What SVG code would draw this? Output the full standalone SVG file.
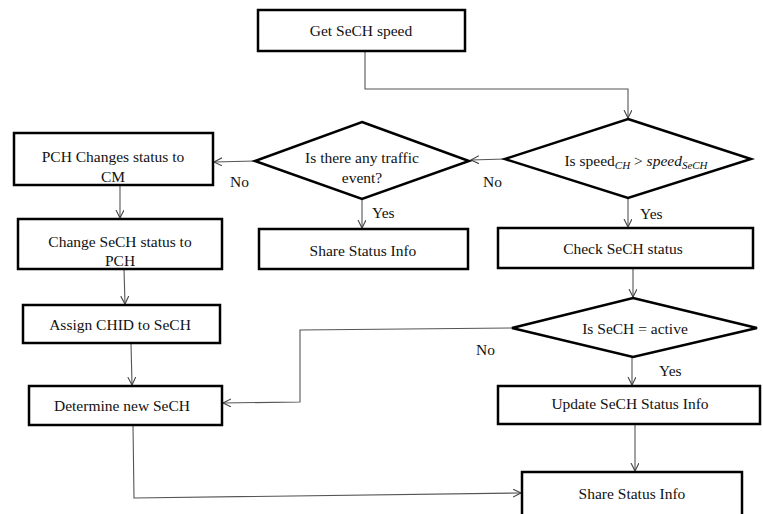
<svg xmlns="http://www.w3.org/2000/svg" width="763" height="514" viewBox="0 0 763 514">
<style>
.box{fill:#fff;stroke:#000;stroke-width:2.5}
.dia{fill:#fff;stroke:#000;stroke-width:2.5;stroke-linejoin:miter}
.t{font-family:"Liberation Serif","Times New Roman",serif;font-size:15.5px;fill:#111;text-anchor:middle}
.l{font-family:"Liberation Serif","Times New Roman",serif;font-size:15.5px;fill:#111}
.c{fill:none;stroke:#555;stroke-width:1.1}
.a{marker-end:url(#arr)}
</style>
<defs>
<marker id="arr" markerUnits="userSpaceOnUse" markerWidth="10" markerHeight="10" refX="8" refY="4" orient="auto">
<path d="M0,0 L8,4 L0,8" fill="none" stroke="#444" stroke-width="1.1"/>
</marker>
</defs>
<g id="connectors">
<path class="c a" d="M365,51 V89 H628 V118"/>
<path class="c a" d="M505,159 L471,160"/>
<path class="c a" d="M628,198 V227"/>
<path class="c a" d="M633,268 V297"/>
<path class="c a" d="M632,357 V385"/>
<path class="c a" d="M635,424 V471"/>
<path class="c a" d="M255,161 L214,162"/>
<path class="c a" d="M362,199 V228"/>
<path class="c a" d="M120,186 V218"/>
<path class="c a" d="M124,269 L125,304"/>
<path class="c a" d="M131,343 L132,385"/>
<path class="c a" d="M512,328 L300,330 V402 L223,403"/>
<path class="c a" d="M133,425 L134,498 L521,493"/>
<text class="l" x="230" y="187">No</text>
<text class="l" x="483" y="187">No</text>
<text class="l" x="372" y="218">Yes</text>
<text class="l" x="640" y="219">Yes</text>
<text class="l" x="476" y="355">No</text>
<text class="l" x="659" y="376">Yes</text>
</g>
<g id="get-speed">
<rect class="box" x="258" y="10" width="207" height="41"/>
<text class="t" x="361" y="36">Get SeCH speed</text>
</g>
<g id="speed-decision">
<polygon class="dia" points="628,119 751,159 628,198 505,159"/>
<text class="t" x="636" y="166">Is speed<tspan font-style="italic" font-size="11" dy="3">CH</tspan><tspan dy="-3"> &gt; </tspan><tspan font-style="italic">speed</tspan><tspan font-style="italic" font-size="11" dy="3">SeCH</tspan></text>
</g>
<g id="traffic-decision">
<polygon class="dia" points="362,122 469,161 362,199 255,161"/>
<text class="t" x="362" y="163">Is there any traffic</text>
<text class="t" x="362" y="183">event?</text>
</g>
<g id="share-mid">
<rect class="box" x="259" y="229" width="209" height="40"/>
<text class="t" x="363" y="256">Share Status Info</text>
</g>
<g id="check-status">
<rect class="box" x="498" y="228" width="255" height="40"/>
<text class="t" x="623" y="254">Check SeCH status</text>
</g>
<g id="active-decision">
<polygon class="dia" points="633,298 757,328 633,357 512,328"/>
<text class="t" x="635" y="334">Is SeCH = active</text>
</g>
<g id="update-status">
<rect class="box" x="498" y="386" width="262" height="38"/>
<text class="t" x="630" y="409">Update SeCH Status Info</text>
</g>
<g id="share-bottom">
<rect class="box" x="522" y="472" width="220" height="50"/>
<text class="t" x="632" y="499">Share Status Info</text>
</g>
<g id="pch-changes">
<rect class="box" x="14" y="133" width="199" height="52"/>
<text class="t" x="113" y="162">PCH Changes status to</text>
<text class="t" x="113" y="182">CM</text>
</g>
<g id="change-sech">
<rect class="box" x="18" y="219" width="204" height="50"/>
<text class="t" x="120" y="247">Change SeCH status to</text>
<text class="t" x="120" y="266">PCH</text>
</g>
<g id="assign-chid">
<rect class="box" x="23" y="305" width="197" height="38"/>
<text class="t" x="120" y="330">Assign CHID to SeCH</text>
</g>
<g id="determine-sech">
<rect class="box" x="29" y="386" width="193" height="39"/>
<text class="t" x="122" y="411">Determine new SeCH</text>
</g>
</svg>
